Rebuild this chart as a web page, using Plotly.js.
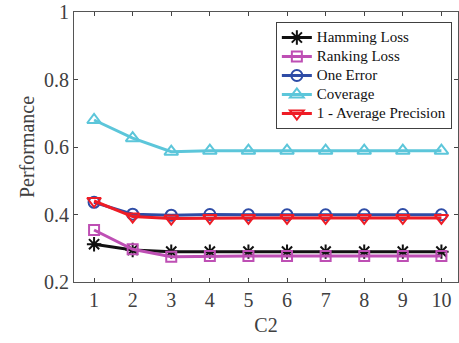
<!DOCTYPE html>
<html><head><meta charset="utf-8">
<script src="https://cdn.plot.ly/plotly-3.0.1.min.js"></script>
<style>html,body{margin:0;padding:0;background:#fff}#c{width:459px;height:343px}</style>
</head><body><div id="c"></div>
<script>
const x = [1,2,3,4,5,6,7,8,9,10];
const hamming = [0.312,0.295,0.290,0.290,0.290,0.290,0.290,0.290,0.290,0.290];
const ranking = [0.354,0.297,0.275,0.277,0.277,0.277,0.277,0.277,0.277,0.277];
const oneError = [0.436,0.401,0.398,0.400,0.399,0.399,0.399,0.399,0.400,0.399];
const coverage = [0.680,0.626,0.586,0.589,0.589,0.589,0.589,0.589,0.589,0.589];
const avgPrec = [0.440,0.394,0.388,0.390,0.390,0.390,0.390,0.390,0.390,0.390];
const names = ['Hamming Loss','Ranking Loss','One Error','Coverage','1 - Average Precision'];
const series = [hamming, ranking, oneError, coverage, avgPrec];
const colors = ['#111111','#BE4FB4','#2E4CA6','#5CC6DA','#EE1C25'];
const symbols = ['asterisk-open','square-open','circle-open','triangle-up-open','triangle-down-open'];
const sizes = [12,10,11,12,12];
const traces = series.map((s,i)=>({
  x: x, y: s, name: '<span style="font-size:15px">' + names[i] + '</span>',
  type:'scatter', mode:'lines+markers',
  line:{color:colors[i], width:3},
  marker:{symbol:symbols[i], size:sizes[i], color:colors[i], line:{color:colors[i], width:2}}
}));
const fam = 'Liberation Serif, Times New Roman, serif';
Plotly.newPlot('c', traces, {
  width:459, height:343,
  margin:{l:74, r:1, t:12, b:61},
  paper_bgcolor:'#fff', plot_bgcolor:'#fff',
  font: {family:fam, color:'#404040'},
  showlegend:true,
  legend:{x:0.984, xanchor:'right', y:0.963, yanchor:'top', bgcolor:'#fff',
    bordercolor:'#404040', borderwidth:1, font:{family:fam, size:12, color:'#111'},
    tracegroupgap:0, itemwidth:30},
  xaxis:{range:[0.48,10.43], tickvals:x, ticktext:x.map(String), ticks:'inside', ticklen:4,
    showline:true, mirror:'ticks', linecolor:'#555', linewidth:1, showgrid:false, zeroline:false,
    tickfont:{family:fam, size:20, color:'#404040'},
    title:{text:'C2', font:{family:fam, size:20, color:'#404040'}, standoff:7}},
  yaxis:{range:[0.2,1], tickvals:[0.2,0.4,0.6,0.8,1], ticktext:['0.2','0.4','0.6','0.8','1'],
    ticks:'inside', ticklen:4, showline:true, mirror:'ticks', linecolor:'#555', linewidth:1,
    showgrid:false, zeroline:false, tickfont:{family:fam, size:20, color:'#404040'},
    title:{text:'Performance', font:{family:fam, size:20, color:'#404040'}, standoff:4}}
}, {staticPlot:true});
</script></body></html>
